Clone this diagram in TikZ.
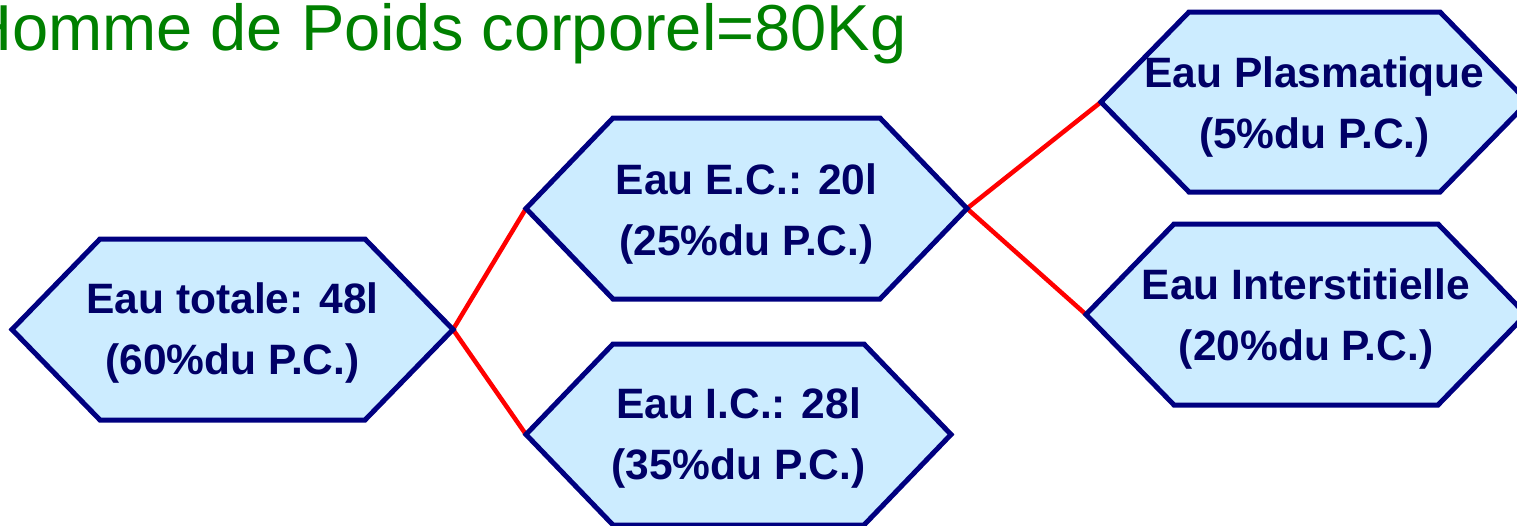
\documentclass[tikz,border=0pt]{standalone}
\usepackage{fontspec}
\setmainfont{Liberation Sans}
\definecolor{hexfill}{RGB}{204,236,255}
\definecolor{hexline}{RGB}{0,0,128}
\definecolor{hextxt}{RGB}{0,0,102}
\definecolor{titlegreen}{RGB}{0,128,0}
\pgfdeclarelayer{background}
\pgfsetlayers{background,main}
\tikzset{
  hexbox/.style={draw=hexline, fill=hexfill, line width=5pt, line join=miter},
  hextext/.style={text=hextxt, font=\bfseries\fontsize{42.5}{61}\selectfont, align=center, inner sep=0pt},
  link/.style={draw=red, line width=4.5pt},
  titletext/.style={text=titlegreen, font=\fontsize{65}{72}\selectfont, inner sep=0pt, anchor=base west}
}
% #1 name, #2 left x, #3 right x, #4 top y, #5 bottom y, #6 point depth, #7 line 1, #8 line 2, #9 text y shift
\newcommand\hexagonbox[9]{%
  \coordinate (#1-w) at (#2,{(#4+#5)/2});
  \coordinate (#1-e) at (#3,{(#4+#5)/2});
  \draw[hexbox] (#1-w) -- ({#2+#6},#4) -- ({#3-#6},#4) -- (#1-e) -- ({#3-#6},#5) -- ({#2+#6},#5) -- cycle;
  \node[hextext] (#1) at ({(#2+#3)/2},{(#4+#5)/2+#9}) {#7\\#8};
}
\begin{document}
\begin{tikzpicture}[x=1pt,y=-1pt]
\useasboundingbox (0,0) rectangle (1517,525);
\node[titletext] (title) at (-35,50) {Homme de Poids corporel=80Kg};
\hexagonbox{tot}{12}{453}{239}{420}{88}{Eau totale: 48l}{(60\%du P.C.)}{4}
\hexagonbox{ec}{526}{967}{118}{299}{87}{Eau E.C.: 20l}{(25\%du P.C.)}{6}
\hexagonbox{ic}{526}{951}{344}{525}{87}{Eau I.C.: 28l}{(35\%du P.C.)}{4}
\hexagonbox{pl}{1101}{1528}{12}{192}{88}{Eau Plasmatique}{(5\%du P.C.)}{5}
\hexagonbox{it}{1086}{1526}{224}{405}{88}{Eau Interstitielle}{(20\%du P.C.)}{5}
\begin{pgfonlayer}{background}
\draw[link] (tot-e) -- (ec-w);
\draw[link] (tot-e) -- (ic-w);
\draw[link] (ec-e) -- (pl-w);
\draw[link] (ec-e) -- (it-w);
\end{pgfonlayer}
\end{tikzpicture}
\end{document}
